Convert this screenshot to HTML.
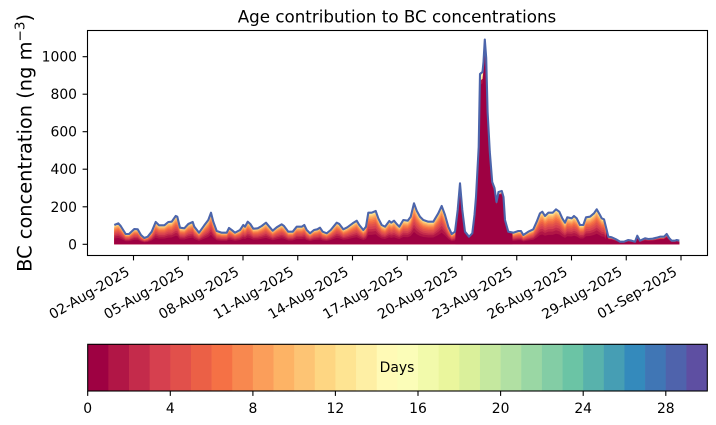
<!DOCTYPE html>
<html>
<head>
<meta charset="utf-8">
<style>
html,body{margin:0;padding:0;background:#fff;}
svg{display:block;}
text{font-family:"DejaVu Sans","Liberation Sans",sans-serif;fill:#000;}
</style>
</head>
<body>
<svg width="716" height="425" viewBox="0 0 716 425" xmlns="http://www.w3.org/2000/svg" xmlns:xlink="http://www.w3.org/1999/xlink">
<defs>
<path id="A" d="M114.3,244.3 L114.3,225 L118.3,223.3 L120.7,226 L125.7,234 L129,234 L134.3,229 L137.7,229.3 L141,235 L144.3,238 L147.7,236.7 L151.7,231.7 L155.7,222 L159,225.3 L164.3,225.3 L168.3,222 L171.7,221.7 L175.7,216 L177.3,216.7 L180,227.7 L184.3,228.3 L188.3,224 L192.7,222 L194.3,226.7 L199,232.7 L204.3,225.3 L208.3,220 L211,212.7 L213.3,221.7 L216.7,231 L221.7,232.7 L226.7,232.7 L229,228 L231.7,230 L235,232.7 L240,230 L243.3,225 L245,226.7 L247.7,221.7 L250.3,224 L253.3,228.7 L257.7,228.3 L261.7,226 L266,222.7 L269.3,226.7 L272.7,230.7 L276.7,227.3 L281.7,224.3 L284,226 L288.3,231.7 L292.7,231.7 L296.7,226.7 L301.7,226.7 L304.3,225 L306.7,230 L310,233.3 L314,230 L317.3,229.3 L320,227.7 L322.7,231.7 L326.7,233.3 L330.7,230 L336.7,222.7 L339.3,224 L343.3,229.3 L347.3,227.3 L352.7,223.3 L356.7,220.7 L359.3,225 L363.3,230 L366,226.7 L368.3,212.7 L371.7,212.7 L375.7,211 L378.3,218.3 L381.7,225 L385,226.7 L389.3,221 L391.3,222.7 L394,220.7 L396.7,224 L399.3,226.7 L403.3,220 L407.7,220.7 L410.7,216.7 L414,203.3 L416.7,210.7 L420,216.7 L423.3,220 L428.3,221.7 L433.3,221.7 L438.3,213.3 L441.7,206 L445,215 L448.3,226.7 L451.7,234 L455,231.7 L457.7,210 L460,183.3 L462.3,210 L465,231.7 L469,236.7 L472.3,233.3 L474.5,215 L476,197 L478.7,147 L480,74 L482.5,72 L483.5,62 L484.8,39.5 L486.2,58 L487.6,112 L489.8,152 L492.2,182 L494.5,188 L496.5,202 L498.5,192 L501.8,191 L503.5,197 L505,220 L508.3,231.7 L513.3,232.7 L518.3,231 L521,231 L523.3,235 L528.3,231.7 L533.3,229.3 L536.7,221.7 L540,213.3 L542.3,211.7 L545,216 L548.3,212.7 L552.7,212.7 L556,209.3 L559.3,211.7 L562.3,218.3 L565,222.7 L567.3,217.3 L571.7,218.3 L574,216 L576.7,218.3 L580,225 L583.3,225 L586,217.3 L590,216.7 L594,213.3 L596.7,209.3 L600,215 L601.7,218.3 L604,219.3 L606.7,230 L608.3,236.7 L611.7,237.3 L616,239.3 L620,241.7 L624,241.7 L628.3,240 L631.7,240.7 L635,241.7 L637.3,235.7 L640,240.7 L645,238.3 L648.3,239 L652.7,238.7 L656.7,237.7 L660,236.7 L664,236.7 L666.7,234 L669.3,238.3 L671.7,240.7 L675,240.7 L676.7,240 L679.3,240.7 L679.3,244.3 Z"/>
<clipPath id="cPeak"><rect x="455.5" y="0" width="57" height="260"/></clipPath>
<clipPath id="cEnd"><rect x="606" y="0" width="80" height="260"/></clipPath>
</defs>

<!-- stacked layers -->
<g>
<use href="#A" xlink:href="#A" fill="#fffab6"/>
<use href="#A" xlink:href="#A" fill="#feefa4" transform="matrix(1,0,0,0.975,0,6.108)"/>
<use href="#A" xlink:href="#A" fill="#fee492" transform="matrix(1,0,0,0.955,0,10.994)"/>
<use href="#A" xlink:href="#A" fill="#fed682" transform="matrix(1,0,0,0.935,0,15.88)"/>
<use href="#A" xlink:href="#A" fill="#fdc474" transform="matrix(1,0,0,0.91,0,21.987)"/>
<use href="#A" xlink:href="#A" fill="#fdb365" transform="matrix(1,0,0,0.88,0,29.316)"/>
<use href="#A" xlink:href="#A" fill="#fb9e5a" transform="matrix(1,0,0,0.845,0,37.867)"/>
<use href="#A" xlink:href="#A" fill="#f8884f" transform="matrix(1,0,0,0.8,0,48.86)"/>
<use href="#A" xlink:href="#A" fill="#f57145" transform="matrix(1,0,0,0.75,0,61.075)"/>
<use href="#A" xlink:href="#A" fill="#eb6046" transform="matrix(1,0,0,0.69,0,75.733)"/>
<use href="#A" xlink:href="#A" fill="#e1504b" transform="matrix(1,0,0,0.63,0,90.391)"/>
<use href="#A" xlink:href="#A" fill="#d6404f" transform="matrix(1,0,0,0.56,0,107.492)"/>
<use href="#A" xlink:href="#A" fill="#c42b4b" transform="matrix(1,0,0,0.48,0,127.036)"/>
<use href="#A" xlink:href="#A" fill="#b11646" transform="matrix(1,0,0,0.4,0,146.58)"/>
<use href="#A" xlink:href="#A" fill="#9e0142" transform="matrix(1,0,0,0.3,0,171.01)"/>
</g>
<g clip-path="url(#cPeak)">
<use href="#A" xlink:href="#A" fill="#b11646" transform="matrix(1,0,0,0.96,0,9.772)"/>
<use href="#A" xlink:href="#A" fill="#9e0142" transform="matrix(1,0,0,0.935,0,15.88)"/>
</g>
<g clip-path="url(#cEnd)">
<use href="#A" xlink:href="#A" fill="#c42b4b" transform="matrix(1,0,0,0.8,0,48.86)"/>
<use href="#A" xlink:href="#A" fill="#9e0142" transform="matrix(1,0,0,0.68,0,78.18)"/>
</g>

<!-- total line -->
<polyline fill="none" stroke="#4c65ab" stroke-width="2.1" stroke-linejoin="round" points="114.3,225 118.3,223.3 120.7,226 125.7,234 129,234 134.3,229 137.7,229.3 141,235 144.3,238 147.7,236.7 151.7,231.7 155.7,222 159,225.3 164.3,225.3 168.3,222 171.7,221.7 175.7,216 177.3,216.7 180,227.7 184.3,228.3 188.3,224 192.7,222 194.3,226.7 199,232.7 204.3,225.3 208.3,220 211,212.7 213.3,221.7 216.7,231 221.7,232.7 226.7,232.7 229,228 231.7,230 235,232.7 240,230 243.3,225 245,226.7 247.7,221.7 250.3,224 253.3,228.7 257.7,228.3 261.7,226 266,222.7 269.3,226.7 272.7,230.7 276.7,227.3 281.7,224.3 284,226 288.3,231.7 292.7,231.7 296.7,226.7 301.7,226.7 304.3,225 306.7,230 310,233.3 314,230 317.3,229.3 320,227.7 322.7,231.7 326.7,233.3 330.7,230 336.7,222.7 339.3,224 343.3,229.3 347.3,227.3 352.7,223.3 356.7,220.7 359.3,225 363.3,230 366,226.7 368.3,212.7 371.7,212.7 375.7,211 378.3,218.3 381.7,225 385,226.7 389.3,221 391.3,222.7 394,220.7 396.7,224 399.3,226.7 403.3,220 407.7,220.7 410.7,216.7 414,203.3 416.7,210.7 420,216.7 423.3,220 428.3,221.7 433.3,221.7 438.3,213.3 441.7,206 445,215 448.3,226.7 451.7,234 455,231.7 457.7,210 460,183.3 462.3,210 465,231.7 469,236.7 472.3,233.3 474.5,215 476,197 478.7,147 480,74 482.5,72 483.5,62 484.8,39.5 486.2,58 487.6,112 489.8,152 492.2,182 494.5,188 496.5,202 498.5,192 501.8,191 503.5,197 505,220 508.3,231.7 513.3,232.7 518.3,231 521,231 523.3,235 528.3,231.7 533.3,229.3 536.7,221.7 540,213.3 542.3,211.7 545,216 548.3,212.7 552.7,212.7 556,209.3 559.3,211.7 562.3,218.3 565,222.7 567.3,217.3 571.7,218.3 574,216 576.7,218.3 580,225 583.3,225 586,217.3 590,216.7 594,213.3 596.7,209.3 600,215 601.7,218.3 604,219.3 606.7,230 608.3,236.7 611.7,237.3 616,239.3 620,241.7 624,241.7 628.3,240 631.7,240.7 635,241.7 637.3,235.7 640,240.7 645,238.3 648.3,239 652.7,238.7 656.7,237.7 660,236.7 664,236.7 666.7,234 669.3,238.3 671.7,240.7 675,240.7 676.7,240 679.3,240.7"/>

<!-- axes frame -->
<rect x="87.5" y="30.5" width="620" height="225" fill="none" stroke="#000" stroke-width="1.1"/>

<!-- y ticks -->
<g stroke="#000" stroke-width="1.1">
<line x1="82.6" y1="244.3" x2="87.5" y2="244.3"/>
<line x1="82.6" y1="206.8" x2="87.5" y2="206.8"/>
<line x1="82.6" y1="169.2" x2="87.5" y2="169.2"/>
<line x1="82.6" y1="131.7" x2="87.5" y2="131.7"/>
<line x1="82.6" y1="94.2" x2="87.5" y2="94.2"/>
<line x1="82.6" y1="56.7" x2="87.5" y2="56.7"/>
</g>
<g font-size="13.9" text-anchor="end">
<text x="77" y="249.3">0</text>
<text x="77" y="211.8">200</text>
<text x="77" y="174.2">400</text>
<text x="77" y="136.7">600</text>
<text x="77" y="99.2">800</text>
<text x="77" y="61.7">1000</text>
</g>

<!-- x ticks -->
<g stroke="#000" stroke-width="1.1">
<line x1="133.5" y1="255.5" x2="133.5" y2="260.4"/>
<line x1="188.25" y1="255.5" x2="188.25" y2="260.4"/>
<line x1="243" y1="255.5" x2="243" y2="260.4"/>
<line x1="297.75" y1="255.5" x2="297.75" y2="260.4"/>
<line x1="352.5" y1="255.5" x2="352.5" y2="260.4"/>
<line x1="407.25" y1="255.5" x2="407.25" y2="260.4"/>
<line x1="462" y1="255.5" x2="462" y2="260.4"/>
<line x1="516.75" y1="255.5" x2="516.75" y2="260.4"/>
<line x1="571.5" y1="255.5" x2="571.5" y2="260.4"/>
<line x1="626.25" y1="255.5" x2="626.25" y2="260.4"/>
<line x1="681" y1="255.5" x2="681" y2="260.4"/>
</g>
<g font-size="13.9" text-anchor="end">
<text transform="translate(130.5,274.5) rotate(-30)">02-Aug-2025</text>
<text transform="translate(185.25,274.5) rotate(-30)">05-Aug-2025</text>
<text transform="translate(240,274.5) rotate(-30)">08-Aug-2025</text>
<text transform="translate(294.75,274.5) rotate(-30)">11-Aug-2025</text>
<text transform="translate(349.5,274.5) rotate(-30)">14-Aug-2025</text>
<text transform="translate(404.25,274.5) rotate(-30)">17-Aug-2025</text>
<text transform="translate(459,274.5) rotate(-30)">20-Aug-2025</text>
<text transform="translate(513.75,274.5) rotate(-30)">23-Aug-2025</text>
<text transform="translate(568.5,274.5) rotate(-30)">26-Aug-2025</text>
<text transform="translate(623.25,274.5) rotate(-30)">29-Aug-2025</text>
<text transform="translate(678,274.5) rotate(-30)">01-Sep-2025</text>
</g>

<!-- title & y label -->
<text x="397" y="22.7" font-size="16.7" text-anchor="middle">Age contribution to BC concentrations</text>
<text transform="translate(31.5,142.9) rotate(-90)" font-size="19.4" text-anchor="middle">BC concentration (ng m<tspan font-size="13.6" dy="-7">−3</tspan><tspan dy="7">)</tspan></text>

<!-- colorbar -->
<g>
<rect x="87.7" y="344.3" width="21.0" height="46.7" fill="#9e0142"/>
<rect x="108.35" y="344.3" width="21.0" height="46.7" fill="#b11646"/>
<rect x="128.99" y="344.3" width="21.0" height="46.7" fill="#c42b4b"/>
<rect x="149.64" y="344.3" width="21.0" height="46.7" fill="#d6404f"/>
<rect x="170.28" y="344.3" width="21.0" height="46.7" fill="#e1504b"/>
<rect x="190.93" y="344.3" width="21.0" height="46.7" fill="#eb6046"/>
<rect x="211.57" y="344.3" width="21.0" height="46.7" fill="#f57145"/>
<rect x="232.22" y="344.3" width="21.0" height="46.7" fill="#f8884f"/>
<rect x="252.86" y="344.3" width="21.0" height="46.7" fill="#fb9e5a"/>
<rect x="273.51" y="344.3" width="21.0" height="46.7" fill="#fdb365"/>
<rect x="294.15" y="344.3" width="21.0" height="46.7" fill="#fdc474"/>
<rect x="314.80" y="344.3" width="21.0" height="46.7" fill="#fed682"/>
<rect x="335.44" y="344.3" width="21.0" height="46.7" fill="#fee492"/>
<rect x="356.09" y="344.3" width="21.0" height="46.7" fill="#feefa4"/>
<rect x="376.73" y="344.3" width="21.0" height="46.7" fill="#fffab6"/>
<rect x="397.38" y="344.3" width="21.0" height="46.7" fill="#fbfdb8"/>
<rect x="418.02" y="344.3" width="21.0" height="46.7" fill="#f2faab"/>
<rect x="438.67" y="344.3" width="21.0" height="46.7" fill="#eaf69d"/>
<rect x="459.31" y="344.3" width="21.0" height="46.7" fill="#daf09b"/>
<rect x="479.96" y="344.3" width="21.0" height="46.7" fill="#c5e89f"/>
<rect x="500.60" y="344.3" width="21.0" height="46.7" fill="#b1e0a3"/>
<rect x="521.25" y="344.3" width="21.0" height="46.7" fill="#9ad7a4"/>
<rect x="541.89" y="344.3" width="21.0" height="46.7" fill="#83cda5"/>
<rect x="562.54" y="344.3" width="21.0" height="46.7" fill="#6bc4a5"/>
<rect x="583.18" y="344.3" width="21.0" height="46.7" fill="#58b2ac"/>
<rect x="603.83" y="344.3" width="21.0" height="46.7" fill="#469eb4"/>
<rect x="624.47" y="344.3" width="21.0" height="46.7" fill="#348abc"/>
<rect x="645.12" y="344.3" width="21.0" height="46.7" fill="#4076b5"/>
<rect x="665.76" y="344.3" width="21.0" height="46.7" fill="#4f63ac"/>
<rect x="686.41" y="344.3" width="20.9" height="46.7" fill="#5e4fa2"/>
</g>
<rect x="87.7" y="344.3" width="619.6" height="46.7" fill="none" stroke="#000" stroke-width="1.1"/>
<text x="397" y="372" font-size="13.9" text-anchor="middle">Days</text>
<g stroke="#000" stroke-width="1.1">
<line x1="87.7" y1="391" x2="87.7" y2="395.9"/>
<line x1="170.3" y1="391" x2="170.3" y2="395.9"/>
<line x1="252.9" y1="391" x2="252.9" y2="395.9"/>
<line x1="335.4" y1="391" x2="335.4" y2="395.9"/>
<line x1="418.0" y1="391" x2="418.0" y2="395.9"/>
<line x1="500.6" y1="391" x2="500.6" y2="395.9"/>
<line x1="583.2" y1="391" x2="583.2" y2="395.9"/>
<line x1="665.8" y1="391" x2="665.8" y2="395.9"/>
</g>
<g font-size="13.9" text-anchor="middle">
<text x="87.7" y="413">0</text>
<text x="170.3" y="413">4</text>
<text x="252.9" y="413">8</text>
<text x="335.4" y="413">12</text>
<text x="418.0" y="413">16</text>
<text x="500.6" y="413">20</text>
<text x="583.2" y="413">24</text>
<text x="665.8" y="413">28</text>
</g>
</svg>
</body>
</html>
